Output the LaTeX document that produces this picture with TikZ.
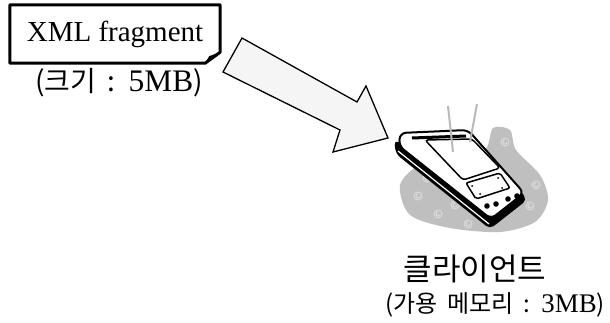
\documentclass[tikz,border=0pt]{standalone}
\usepackage{fontspec}
\setmainfont{Liberation Serif}
\newfontfamily\krfont[WordSpace=1.8]{Noto Sans CJK KR}
\newfontfamily\latinfont[Scale=1.12]{Liberation Serif}
\usetikzlibrary{calc}

\tikzset{
  fragbox/.style={font=\fontsize{29}{30}\selectfont, inner sep=0pt,
    minimum width=210pt, minimum height=58pt},
  krlabel/.style={font=\fontsize{27}{28}\selectfont\krfont, inner sep=0pt},
  bigarrow/.style={draw=black, line width=1.3pt, fill=gray!8, line join=miter},
  swirl/.style={gray!30, line width=1pt},
  antenna/.style={gray!55, line width=2pt},
}

\begin{document}
\begin{tikzpicture}[x=1pt,y=-1pt]
  \useasboundingbox (0,0) rectangle (610,323);

  % fragment label with curled corner
  \node[fragbox] (frag) at (115,34) {XML fragment};
  \draw[line width=3pt, line join=round]
    (frag.north west) -- (frag.north east) -- ($(frag.south east)+(0,-11)$)
    -- ($(frag.south east)+(-15,0)$) -- (frag.south west) -- cycle;
  \fill ($(frag.south east)+(0,-11)$) -- ($(frag.south east)+(-15,0)$)
    -- ($(frag.south east)+(-11,-7)$) -- cycle;
  \node[krlabel, font=\fontsize{28}{30}\selectfont\krfont] (fragsize) at (119,83)
    {(크기 : {\latinfont 5MB})};

  % big block arrow
  \draw[bigarrow] (242,38) -- (357,102) -- (366,86) -- (388,138)
    -- (333,152) -- (340,130) -- (223,72) -- cycle;

  % background blob
  \fill[gray!50] plot[smooth cycle] coordinates {(400,185) (420,165) (455,160)
    (485,150) (493,128) (510,130) (516,150) (540,175) (548,200) (535,222)
    (500,232) (450,228) (410,215)};
  \foreach \p in {(418,196),(438,214),(468,224),(530,206),(505,142),(427,178),(536,185),(455,205)}
    \draw[swirl] \p circle (4) ++(2,0) arc (0:270:2);

  % handheld
  \fill[rounded corners=5pt] (394,140) -- (396,154) -- (490,229) -- (527,200)
    -- (520,190) -- cycle;
  \filldraw[fill=white, line width=2pt, rounded corners=6pt] (400,133) -- (468,130)
    -- (524,193) -- (491,219) -- (399,146) -- cycle;
  \draw[white, line width=1.2pt] (398,151) -- (489,224);
  \draw[line width=1.5pt, rounded corners=3pt] (425,140) -- (472,139) -- (500,168)
    -- (463,180) -- cycle;
  \draw[line width=3pt] (412,138) -- (466,136);
  \draw[line width=1.5pt, rounded corners=2pt] (466,183) -- (500,173) -- (510,188)
    -- (476,199) -- cycle;
  \foreach \p in {(472,186),(498,178),(502,188),(480,194)}
    \fill \p circle (1);
  \foreach \p in {(487,206),(496,204),(508,199),(517,196)}
    \fill \p circle (2.8);
  \draw[antenna] (448,106) -- (453,152);
  \draw[antenna] (477,104) -- (470,142);

  % client labels
  \node[krlabel, font=\fontsize{31}{32}\selectfont\krfont] (client) at (475,269) {클라이언트};
  \node[krlabel, font=\fontsize{24}{28}\selectfont\krfont, anchor=east] (clientmem)
    at (605,305) {(가용 메모리 : {\latinfont 3MB})};
\end{tikzpicture}
\end{document}
